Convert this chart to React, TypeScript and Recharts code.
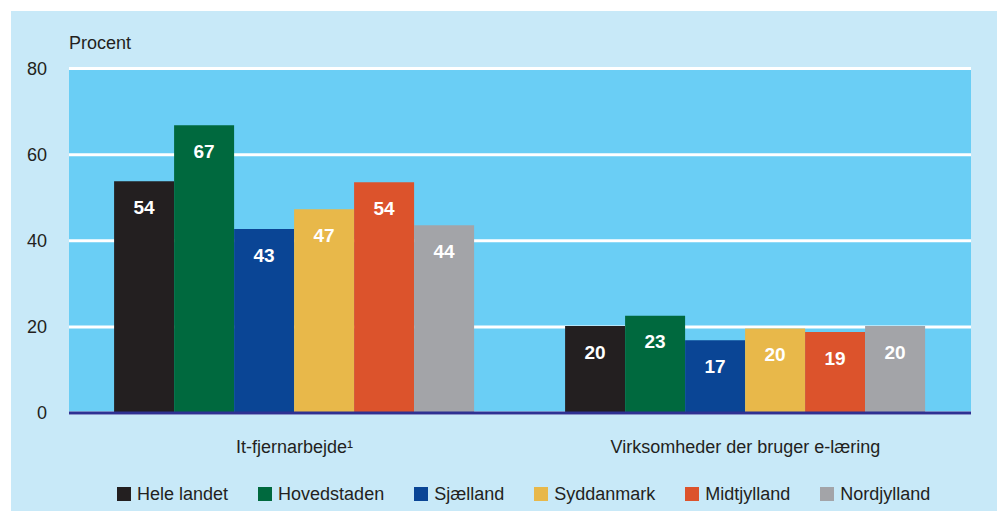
import { BarChart, Bar, XAxis, YAxis, CartesianGrid, Legend, LabelList } from 'recharts';

const FONT = '"Liberation Sans", Arial, sans-serif';

const categories = ['It-fjernarbejde¹', 'Virksomheder der bruger e-læring'];
const seriesNames = ['Hele landet', 'Hovedstaden', 'Sjælland', 'Syddanmark', 'Midtjylland', 'Nordjylland'];
const seriesColors = ['#231f20', '#00693e', '#0a4595', '#e8b84a', '#dc532c', '#a3a4a8'];

const heleLandet = [53.8, 20.2];
const hovedstaden = [66.8, 22.6];
const sjaelland = [42.7, 16.9];
const syddanmark = [47.3, 19.6];
const midtjylland = [53.6, 18.8];
const nordjylland = [43.6, 20.2];

const yTicks = [0, 20, 40, 60, 80];

const seriesValues = [heleLandet, hovedstaden, sjaelland, syddanmark, midtjylland, nordjylland];

const data = categories.map((name, i) => {
    const row: Record<string, string | number> = { name };
    seriesNames.forEach((s, j) => {
        row[s] = seriesValues[j][i];
    });
    return row;
});

const BarValue = (props: any) => {
    const { x, y, width, value } = props;
    return (
        <text
            x={Number(x) + Number(width) / 2}
            y={Number(y) + 26}
            fill="#ffffff"
            textAnchor="middle"
            dominantBaseline="central"
            fontWeight="bold"
            fontSize={19}
            fontFamily={FONT}
        >
            {Math.round(Number(value))}
        </text>
    );
};

const LegendRow = () => (
    <div style={{ display: 'flex', alignItems: 'center', paddingLeft: 106, height: 30, fontFamily: FONT, fontSize: 18, color: '#231f20', whiteSpace: 'nowrap' }}>
        {seriesNames.map((s, i) => (
            <div key={s} style={{ display: 'flex', alignItems: 'center', marginRight: 30 }}>
                <span style={{ display: 'inline-block', width: 14, height: 14, background: seriesColors[i], marginRight: 6 }} />
                <span>{s}</span>
            </div>
        ))}
    </div>
);

const App = () => {
    return (
        <div style={{ position: 'absolute', left: 0, top: 0, width: 997, height: 511, background: '#ffffff' }}>
            <div style={{ position: 'absolute', left: 11, top: 11, width: 986, height: 500, background: '#c8e9f8' }}>
                <div style={{ position: 'absolute', left: 58, top: 22, fontFamily: FONT, fontSize: 18, color: '#231f20' }}>
                    Procent
                </div>
                <BarChart
                    width={986}
                    height={500}
                    data={data}
                    margin={{ top: 57.5, right: 26, bottom: 2, left: 0 }}
                    barCategoryGap="10%"
                    barGap={0}
                >
                    <CartesianGrid vertical={false} stroke="#ffffff" strokeWidth={3} fill="#6acef5" />
                    <XAxis
                        dataKey="name"
                        height={66}
                        tickLine={false}
                        tickSize={0}
                        tickMargin={27}
                        axisLine={{ stroke: '#2e3192', strokeWidth: 3 }}
                        tick={{ fill: '#231f20', fontSize: 18, fontFamily: FONT }}
                    />
                    <YAxis
                        width={58}
                        domain={[0, 80]}
                        ticks={yTicks}
                        tickLine={false}
                        axisLine={false}
                        tickSize={0}
                        tickMargin={22}
                        tick={{ fill: '#231f20', fontSize: 18, fontFamily: FONT }}
                    />
                    <Legend verticalAlign="bottom" height={30} wrapperStyle={{ left: 0, width: 986 }} content={<LegendRow />} />
                    {seriesNames.map((s, i) => (
                        <Bar key={s} dataKey={s} fill={seriesColors[i]} isAnimationActive={false}>
                            <LabelList dataKey={s} content={<BarValue />} />
                        </Bar>
                    ))}
                </BarChart>
            </div>
        </div>
    );
};

export default App;
